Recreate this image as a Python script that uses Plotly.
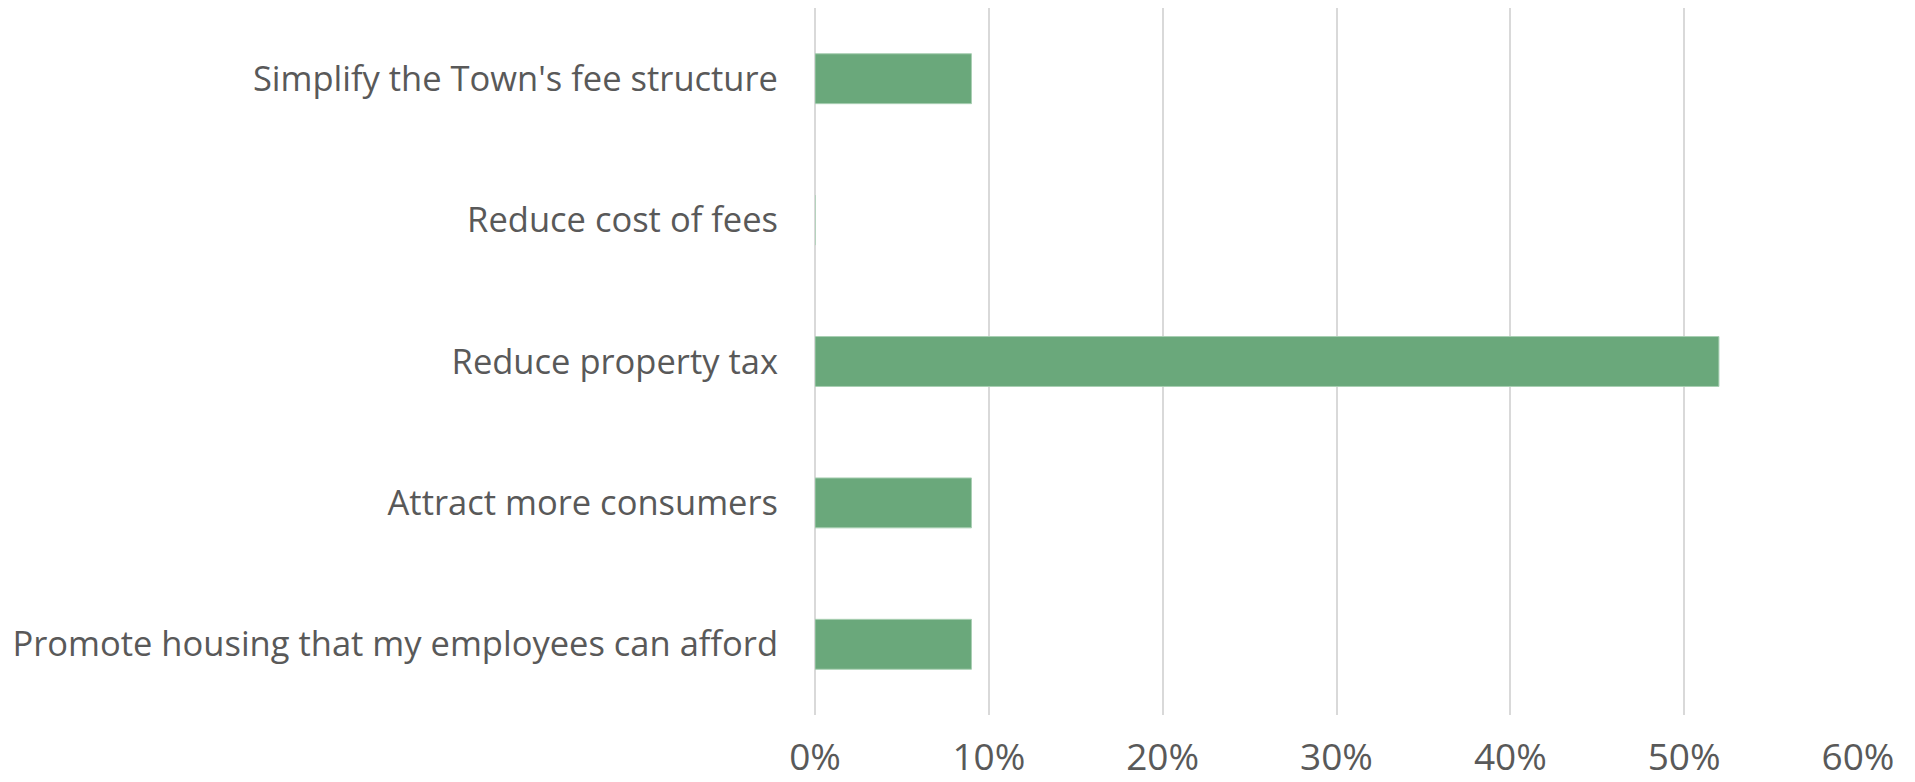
import plotly.graph_objects as go

# Survey responses: share of businesses selecting each option
categories = [
    "Promote housing that my employees can afford",
    "Attract more consumers",
    "Reduce property tax",
    "Reduce cost of fees",
    "Simplify the Town's fee structure",
]
shares = [0.09, 0.09, 0.52, 0.0, 0.09]
x_ticks = [0, 0.1, 0.2, 0.3, 0.4, 0.5, 0.6]
x_tick_labels = ["0%", "10%", "20%", "30%", "40%", "50%", "60%"]

TEXT_COLOR = "#595959"
GRID_COLOR = "#d9d9d9"
BAR_COLOR = "#6aa87b"
FONT = "Open Sans"

fig = go.Figure(
    go.Bar(
        x=shares,
        y=categories,
        orientation="h",
        marker=dict(color=BAR_COLOR, line=dict(color="#a9cfb3", width=1)),
        hoverinfo="x+y",
    )
)

fig.update_layout(
    width=1915,
    height=782,
    margin=dict(l=815, r=57, t=8, b=67),
    paper_bgcolor="white",
    plot_bgcolor="white",
    bargap=0.647,
    showlegend=False,
    font=dict(family=FONT, size=34, color=TEXT_COLOR),
)

fig.update_xaxes(
    range=[0, 0.6],
    tickvals=x_ticks,
    ticktext=x_tick_labels,
    showgrid=True,
    gridcolor=GRID_COLOR,
    gridwidth=2,
    zeroline=True,
    zerolinecolor=GRID_COLOR,
    zerolinewidth=2,
    showline=False,
    ticks="",
    ticklabelstandoff=17,
    automargin=False,
    tickfont=dict(family=FONT, size=37, color=TEXT_COLOR),
)

fig.update_yaxes(
    categoryorder="array",
    categoryarray=categories,
    showgrid=False,
    zeroline=False,
    showline=False,
    ticks="",
    ticklabelstandoff=36,
    automargin=False,
    tickfont=dict(family=FONT, size=34.5, color=TEXT_COLOR),
)

fig.write_html("out.html")
